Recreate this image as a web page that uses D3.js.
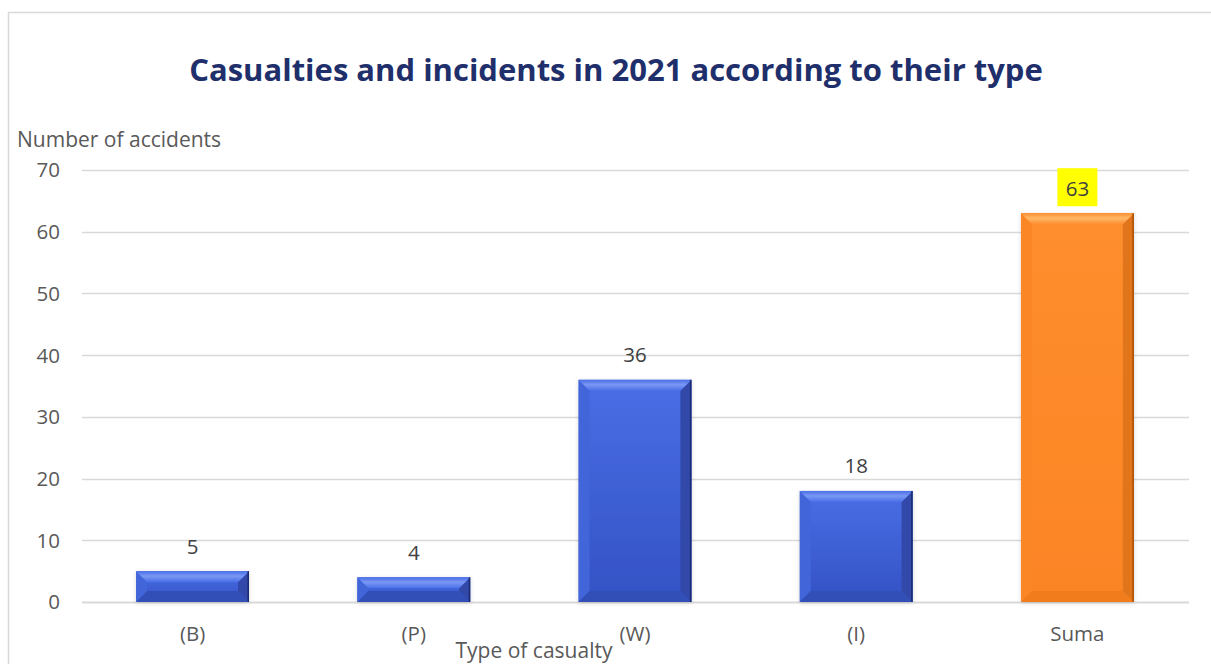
<!DOCTYPE html>
<html>
<head>
<meta charset="utf-8">
<script src="https://cdn.jsdelivr.net/npm/d3@7"></script>
<style>
  html, body { margin: 0; padding: 0; background: #fff; }
  svg { display: block; }
</style>
</head>
<body>
<svg id="chart" width="1211" height="664"></svg>
<script>
// Casualty categories and their counts
const categories = ["(B)", "(P)", "(W)", "(I)", "Suma"];
const values = [5, 4, 36, 18, 63];
const yTicks = [0, 10, 20, 30, 40, 50, 60, 70];
const highlighted = ["Suma"];

const W = 1211, H = 664;
const margin = { left: 82, right: 23, top: 170, bottom: 62 };
const svg = d3.select("#chart");
const font = "'Open Sans', Lato, sans-serif";

// outer frame
svg.append("rect")
  .attr("x", 8.5).attr("y", 12.5)
  .attr("width", W).attr("height", H)
  .attr("fill", "none").attr("stroke", "#d9d9d9").attr("stroke-width", 1.5);

const x = d3.scaleBand().domain(categories)
  .range([margin.left, W - margin.right]).paddingInner(0.49).paddingOuter(0.245);
const y = d3.scaleLinear().domain([0, 70]).range([H - margin.bottom, margin.top]);

// gradients and shadow
const defs = svg.append("defs");
const f = defs.append("filter").attr("id", "shadow")
  .attr("x", "-10%").attr("y", "-10%").attr("width", "120%").attr("height", "130%");
f.append("feDropShadow").attr("dx", 0).attr("dy", 1).attr("stdDeviation", 2)
  .attr("flood-color", "#000").attr("flood-opacity", 0.15);

const palettes = {
  blue: { base: ["#4a6ee6", "#3352c4"], top: "#7a98f4", bottom: "#3250b8", left: "#4265da", right: "#3048aa", edge: "#1c2c72" },
  orange: { base: ["#ff8e2e", "#fb8424"], top: "#ffb868", bottom: "#f07c1e", left: "#fb8626", right: "#e0741a", edge: "#a9520e" }
};
Object.entries(palettes).forEach(([k, p]) => {
  const g = defs.append("linearGradient").attr("id", "grad-" + k)
    .attr("x1", 0).attr("y1", 0).attr("x2", 0).attr("y2", 1);
  g.append("stop").attr("offset", "0%").attr("stop-color", p.base[0]);
  g.append("stop").attr("offset", "100%").attr("stop-color", p.base[1]);
  const t = defs.append("linearGradient").attr("id", "top-" + k)
    .attr("x1", 0).attr("y1", 0).attr("x2", 0).attr("y2", 1);
  t.append("stop").attr("offset", "0%").attr("stop-color", p.base[0]);
  t.append("stop").attr("offset", "45%").attr("stop-color", p.top);
  t.append("stop").attr("offset", "100%").attr("stop-color", p.base[0]);
});

// gridlines
svg.append("g").selectAll("line").data(yTicks).join("line")
  .attr("x1", margin.left).attr("x2", W - margin.right + 1)
  .attr("y1", d => Math.round(y(d)) + 0.5).attr("y2", d => Math.round(y(d)) + 0.5)
  .attr("stroke", "#d9d9d9").attr("stroke-width", d => d === 0 ? 2 : 1.3);

// y tick labels
svg.append("g").selectAll("text").data(yTicks).join("text")
  .attr("x", 60).attr("y", d => y(d)).attr("dy", "0.36em")
  .attr("text-anchor", "end")
  .attr("font-family", font).attr("font-size", 20.5).attr("fill", "#595959")
  .text(d => d);

// x tick labels
svg.append("g").selectAll("text").data(categories).join("text")
  .attr("x", d => x(d) + x.bandwidth() / 2).attr("y", 641)
  .attr("text-anchor", "middle")
  .attr("font-family", font).attr("font-size", 20.5).attr("fill", "#595959")
  .text(d => d);

// bevelled bars
const bars = svg.append("g").selectAll("g").data(categories).join("g")
  .attr("filter", "url(#shadow)");
bars.each(function(c, i) {
  const g = d3.select(this);
  const k = highlighted.includes(c) ? "orange" : "blue";
  const p = palettes[k];
  const x0 = x(c), x1 = x0 + x.bandwidth();
  const y0 = y(values[i]), y1 = y(0);
  const h = y1 - y0;
  const b = Math.min(11, h / 2);
  g.append("rect").attr("x", x0).attr("y", y0).attr("width", x1 - x0).attr("height", h)
    .attr("fill", `url(#grad-${k})`);
  // left and right faces
  g.append("polygon").attr("points", [[x0, y0], [x0 + b, y0 + b], [x0 + b, y1 - b], [x0, y1]].join(" "))
    .attr("fill", p.left);
  g.append("polygon").attr("points", [[x1, y0], [x1 - b, y0 + b], [x1 - b, y1 - b], [x1, y1]].join(" "))
    .attr("fill", p.right);
  // top and bottom faces
  g.append("polygon").attr("points", [[x0, y0], [x1, y0], [x1 - b, y0 + b], [x0 + b, y0 + b]].join(" "))
    .attr("fill", `url(#top-${k})`);
  g.append("polygon").attr("points", [[x0, y1], [x1, y1], [x1 - b, y1 - b], [x0 + b, y1 - b]].join(" "))
    .attr("fill", p.bottom);
  g.append("line").attr("x1", x1 - 0.75).attr("x2", x1 - 0.75).attr("y1", y0).attr("y2", y1)
    .attr("stroke", p.edge).attr("stroke-width", 1.5);
});

// value labels
const labels = svg.append("g").selectAll("g").data(categories).join("g")
  .attr("transform", (c, i) => `translate(${x(c) + x.bandwidth() / 2},${y(values[i]) - 25})`);
labels.filter(c => highlighted.includes(c)).append("rect")
  .attr("x", -20).attr("y", -20).attr("width", 40).attr("height", 38)
  .attr("fill", "#ffff00");
labels.append("text")
  .attr("y", 0).attr("dy", "0.36em").attr("text-anchor", "middle")
  .attr("font-family", font).attr("font-size", 20.5).attr("fill", "#404040")
  .text((c, i) => values[i]);

// titles
svg.append("text").attr("x", 616).attr("y", 81).attr("text-anchor", "middle")
  .attr("font-family", font).attr("font-weight", 700).attr("font-size", 31)
  .attr("fill", "#1f2f6b")
  .text("Casualties and incidents in 2021 according to their type");
svg.append("text").attr("x", 17).attr("y", 147)
  .attr("font-family", font).attr("font-size", 21).attr("fill", "#595959")
  .text("Number of accidents");
svg.append("text").attr("x", 534).attr("y", 658).attr("text-anchor", "middle")
  .attr("font-family", font).attr("font-size", 21).attr("fill", "#595959")
  .text("Type of casualty");
</script>
</body>
</html>
